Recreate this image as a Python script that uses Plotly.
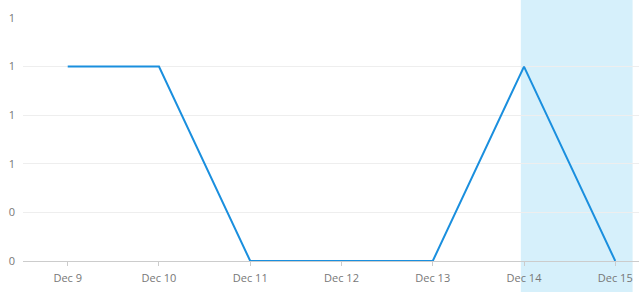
import plotly.graph_objects as go

categories = ["Dec 9", "Dec 10", "Dec 11", "Dec 12", "Dec 13", "Dec 14", "Dec 15"]
values = [1, 1, 0, 0, 0, 1, 0]
y_tick_vals = [0, 0.25, 0.5, 0.75, 1.0, 1.25]
y_tick_text = ["0", "0", "1", "1", "1", "1"]
highlight_start = "Dec 14"

idx = list(range(len(categories)))
hs = categories.index(highlight_start)

fig = go.Figure()
fig.add_trace(go.Scatter(
    x=idx, y=values, mode="lines",
    line=dict(color="#1a8fde", width=2),
    hoverinfo="skip", showlegend=False,
))

fig.add_shape(type="rect", xref="x", yref="paper",
              x0=hs - 0.035, x1=len(categories) - 1 + 0.19,
              y0=-0.128, y1=1.08,
              fillcolor="#d6f0fb", line=dict(width=0), layer="below")

fig.update_layout(
    width=639, height=299,
    margin=dict(l=23, r=0, t=18, b=38),
    paper_bgcolor="white", plot_bgcolor="white",
    font=dict(family="Open Sans, Arial, sans-serif", size=11, color="#777777"),
    xaxis=dict(
        range=[-0.49, len(categories) - 1 + 0.26],
        tickvals=idx, ticktext=categories,
        showgrid=False, zeroline=False,
        showline=True, linecolor="#cccccc", linewidth=1,
        ticks="outside", ticklen=4, tickcolor="#cccccc",
        ticklabelstandoff=3,
        fixedrange=True,
    ),
    yaxis=dict(
        range=[0, 1.25],
        tickvals=y_tick_vals, ticktext=y_tick_text,
        showgrid=True, gridcolor="#eeeeee", gridwidth=1,
        zeroline=False, showline=False, ticks="",
        ticklabelstandoff=7,
        fixedrange=True,
    ),
)

fig.write_html("out.html")
